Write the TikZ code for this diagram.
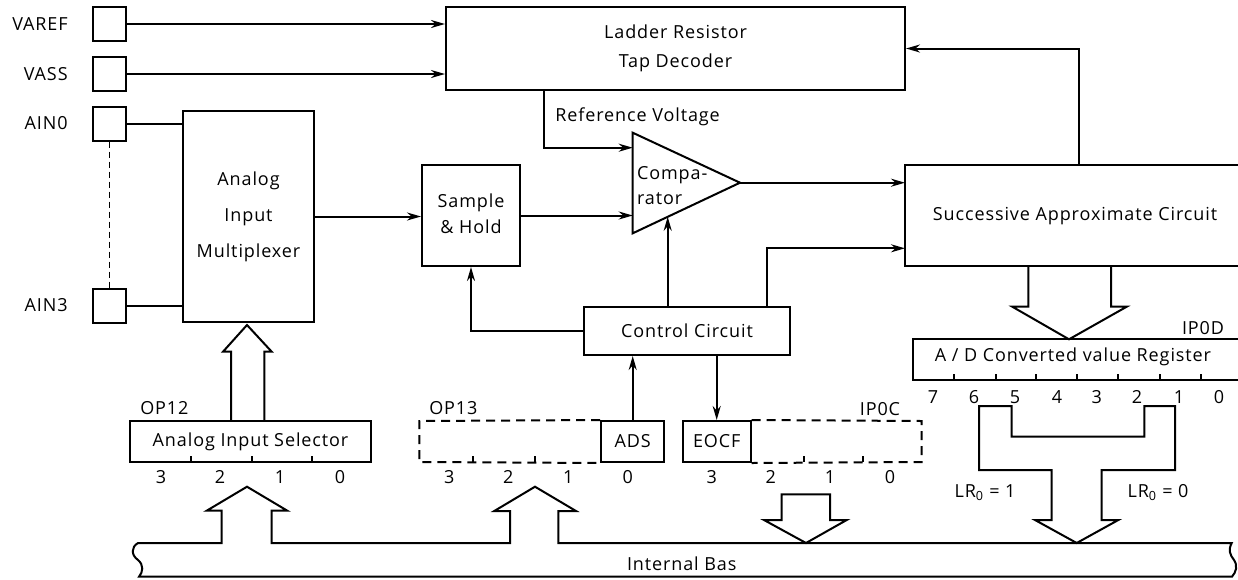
\documentclass[tikz,border=0pt]{standalone}
\usepackage{fontspec}
\setmainfont[LetterSpace=5]{Open Sans}
\usetikzlibrary{arrows.meta}

\tikzset{
  box/.style={draw,inner sep=0pt,align=center},
  pin/.style={draw,minimum width=33pt,minimum height=34pt,inner sep=0pt},
  arr/.style={-{Stealth[length=14pt,width=8pt]}},
  dashreg/.style={dash pattern=on 9pt off 6pt},
  bitno/.style={inner sep=0pt},
}

\begin{document}
\begin{tikzpicture}[x=1pt,y=-1pt,line width=2pt,font=\fontsize{18}{26}\selectfont]
        \useasboundingbox (0,0) rectangle (1238,579);

        % pins on the left
        \foreach \name/\lbl/\y in {vref/VAREF/24,vss/VASS/74,ain0/AIN0/123.5,ain3/AIN3/305.5}
        {
          \node[pin] (\name) at (109.5,\y) {};
          \node[anchor=east] (\name l) at (72,\y) {\lbl};
        }
        \draw[line width=1.3pt,dash pattern=on 6pt off 4pt] (ain0.south) -- (ain3.north);

        % the blocks
        \node[box,minimum width=131pt,minimum height=211pt,font=\fontsize{18}{36}\selectfont] (mux) at (248.5,216.5) {Analog\\Input\\Multiplexer};
        \node[box,minimum width=459pt,minimum height=83pt,font=\fontsize{18}{29}\selectfont] (ladder) at (675.5,48.5) {Ladder Resistor\\Tap Decoder};
        \node[box,minimum width=98pt,minimum height=101pt] (sh) at (471,215.5)
          {\raisebox{6pt}{\begin{tabular}{@{}c@{}}Sample\\\& Hold\end{tabular}}};
        \node[box,minimum width=206pt,minimum height=48pt] (ctrl) at (687,331) {Control Circuit};

        % the comparator
        \coordinate (cmp top) at (632.7,132.7);
        \coordinate (cmp bot) at (632.7,233.3);
        \coordinate (cmp tip) at (740,182.7);
        \coordinate (cmp ctl) at (667.7,216.8);
        \coordinate (ref in) at (632.7,147.7);
        \draw (cmp top) -- (cmp tip) -- (cmp bot) -- cycle;
        \node[anchor=west,align=left,inner sep=0pt,font=\fontsize{18}{25}\selectfont] (cmp) at (636,185.5) {Compa-\\rator};

        % successive approximate circuit, open to the right
        \coordinate (sac nw) at (905,165);
        \coordinate (sac sw) at (905,266);
        \coordinate (sac in) at (905,248.3);
        \coordinate (sac up) at (1079,165);
        \draw (1238,165) -- (sac nw) -- (sac sw) -- (1238,266);
        \node (sac) at (1075,216.5) {Successive Approximate Circuit};

        % connectors
        \draw[arr] (vref.east) -- (vref.east -| ladder.west);
        \draw[arr] (vss.east) -- (vss.east -| ladder.west);
        \draw (ain0.east) -- (ain0.east -| mux.west);
        \draw (ain3.east) -- (ain3.east -| mux.west);
        \draw[arr] (mux.east) -- (mux.east -| sh.west);
        \draw[arr] (sh.east) -- (sh.east -| cmp top);
        \draw[arr] (ladder.south -| 544.3,0) |- (ref in);
        \node[anchor=west] (refv) at (551,117) {Reference Voltage};
        \draw[arr] (cmp tip) -- (cmp tip -| sac nw);
        \draw[arr] (sac up) |- (ladder.east);
        \draw[arr] (ctrl.north -| cmp ctl) -- (cmp ctl);
        \draw[arr] (ctrl.north -| 766.7,0) |- (sac in);
        \draw[arr] (ctrl.west) -| (sh.south);

        % OP12
        \node[box,minimum width=241pt,minimum height=41pt] (sel) at (250.5,441.5) {Analog Input Selector};
        \node[anchor=west] (op12) at (136,408) {OP12};
        \foreach \x in {191,252,311.7}
          \draw (\x,462) -- (\x,456);
        \foreach \b/\x in {3/161,2/220,1/280,0/340}
          \node[bitno] (sel b\b) at (\x,476.7) {\b};

        % OP13
        \node[box,minimum width=63pt,minimum height=41pt] (ads) at (632.7,441.5) {ADS};
        \draw[dashreg] (ads.north west) -- (419.3,421) -- (419.3,462) -- (ads.south west);
        \node[anchor=west] (op13) at (425,408) {OP13};
        \foreach \x in {473.3,535}
          \draw (\x,462) -- (\x,456);
        \foreach \b/\x in {3/449.3,2/508.3,1/568.3,0/627.7}
          \node[bitno] (op13 b\b) at (\x,476.7) {\b};
        \draw[arr] (ads.north) -- (ads.north |- ctrl.south);

        % IP0C
        \node[box,minimum width=68pt,minimum height=41pt] (eocf) at (716.7,441.5) {EOCF};
        \draw[dashreg] (eocf.north east) -- (921.7,421) -- (921.7,462) -- (eocf.south east);
        \node (ip0c) at (880,409) {IP0C};
        \foreach \x in {804.3,863.3}
          \draw (\x,462) -- (\x,456);
        \foreach \b/\x in {3/711.7,2/770.7,1/830,0/890}
          \node[bitno] (ip0c b\b) at (\x,476.7) {\b};
        \draw[arr] (eocf.north |- ctrl.south) -- (eocf.north);

        % IP0D, open to the right
        \draw (1238,339.3) -- (913.3,339.3) -- (913.3,380) -- (1238,380);
        \node (adreg) at (1073,357.3) {A / D Converted value Register};
        \node (ip0d) at (1203,328) {IP0D};
        \foreach \x in {954.3,995.7,1035.7,1077.3,1118.3,1160,1201}
          \draw (\x,380) -- (\x,374);
        \foreach \b/\x in {7/933,6/974,5/1015,4/1057,3/1096.7,2/1137,1/1179,0/1219}
          \node[bitno] (ip0d b\b) at (\x,396.7) {\b};

        % hollow bus arrows
        \draw (231,421) -- (231,351.7) -- (223,351.7) -- (247,325) -- (271.7,351.7) -- (264.3,351.7) -- (264.3,421);
        \draw (1028.3,266) -- (1028.3,306.7) -- (1012.3,306.7) -- (1069,339.3) -- (1126.7,306.7) -- (1111,306.7) -- (1111,266);
        \draw (781.7,494.3) -- (781.7,520) -- (764,520) -- (806,543) -- (846.7,520) -- (830,520) -- (830,494.3) -- cycle;
        \draw (979,406) -- (979,470) -- (1051.7,470) -- (1051.7,520) -- (1035,520) -- (1076.7,543)
          -- (1118.3,520) -- (1101.7,520) -- (1101.7,470) -- (1175,470) -- (1175,406) -- (1144.3,406)
          -- (1144.3,436.7) -- (1011.7,436.7) -- (1011.7,406) -- cycle;
        \node (lr1) at (985,492.7) {LR\textsubscript{0} = 1};
        \node (lr0) at (1158,492.7) {LR\textsubscript{0} = 0};

        % the internal bus
        \draw (138,543) -- (221.7,543) -- (221.7,510.7) -- (206.7,510.7) -- (247,486.7) -- (287.3,510.7)
          -- (271.7,510.7) -- (271.7,543) -- (510,543) -- (510,511) -- (494.3,511) -- (535,486.7)
          -- (576,511) -- (558.3,511) -- (558.3,543) -- (1231.7,543)
          .. controls (1228,550) and (1230,555) .. (1234,560)
          .. controls (1238,566) and (1236,572) .. (1232,576.7) -- (139,576.7)
          .. controls (143,572) and (144,565) .. (138,560)
          .. controls (131,555) and (131,547) .. (138,543) -- cycle;
        \node (bus) at (681.7,564) {Internal Bas};
\end{tikzpicture}
\end{document}
